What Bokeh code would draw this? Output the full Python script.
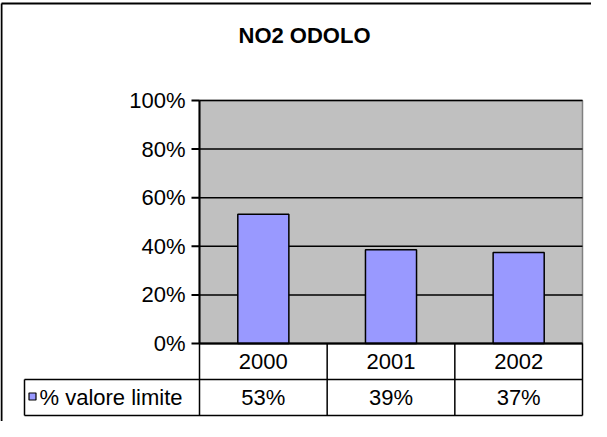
from bokeh.plotting import figure
from bokeh.models import Range1d, ColumnDataSource
from bokeh.core.properties import value
from bokeh.embed import file_html
from bokeh.resources import INLINE

# ---- data ----
chart_title = "NO2 ODOLO"
years = ["2000", "2001", "2002"]
pct_values = [0.532, 0.386, 0.374]
series_name = "% valore limite"
y_ticks = [0.0, 0.2, 0.4, 0.6, 0.8, 1.0]
y_tick_labels = ["0%", "20%", "40%", "60%", "80%", "100%"]

# ---- layout (figure pixel geometry) ----
W, H = 591, 421
PL, PR, PT, PB = 199, 582, 100, 343   # plot area in figure pixels
ROW_H = 36
LEG_L = 24
FONT = value("Liberation Sans")
FS = "22px"

n = len(years)
xpu = (PR - PL) / n
ypu = (PB - PT) / 1.0


def X(px):
    return (px - PL) / xpu


def Y(py):
    return (PB - py) / ypu


p = figure(width=W, height=H, x_range=Range1d(X(0), X(W)), y_range=Range1d(Y(H), Y(0)),
           output_backend="svg", toolbar_location=None, min_border=0,
           x_axis_location=None, y_axis_location=None, title_location=None)
p.grid.visible = False
p.outline_line_color = None
p.background_fill_color = "white"
p.border_fill_color = "white"

# outer chart border (left and top edges visible)
p.segment(x0=[X(1), X(1)], y0=[Y(3), Y(3)], x1=[X(1), X(W + 20)], y1=[Y(H + 20), Y(3)],
          line_color="black", line_width=2)

# title
p.text(x=[X(304)], y=[Y(35)], text=[chart_title], text_font=FONT, text_font_size="22px",
       text_font_style="bold", text_align="center", text_baseline="middle", text_color="black")

# plot area
p.quad(left=[0], right=[n], bottom=[0], top=[1], fill_color="#C0C0C0",
       line_color="#808080", line_width=1.5)

# gridlines
grid_vals = y_ticks[1:]
p.segment(x0=[0] * len(grid_vals), x1=[n] * len(grid_vals), y0=grid_vals, y1=grid_vals,
          line_color="black", line_width=1.5)

# bars
src = ColumnDataSource(dict(
    x=[i + 0.5 for i in range(n)],
    top=pct_values,
    year=years,
    label=[f"{round(v * 100)}%" for v in pct_values],
    yr_y=[Y(PB + ROW_H / 2)] * n,
    val_y=[Y(PB + ROW_H * 1.5)] * n,
))
p.vbar(x="x", top="top", bottom=0, width=0.4, source=src, fill_color="#9999FF",
       line_color="black", line_width=1.5)

# value axis
p.segment(x0=[0], y0=[0], x1=[0], y1=[1], line_color="black", line_width=2)
p.segment(x0=[X(PL - 8)] * len(y_ticks), x1=[0] * len(y_ticks), y0=y_ticks, y1=y_ticks,
          line_color="black", line_width=2)
p.text(x=[X(PL - 14)] * len(y_ticks), y=y_ticks, text=y_tick_labels, text_font=FONT,
       text_font_size=FS, text_align="right", text_baseline="middle", text_color="black")

# data table
r1 = Y(PB + ROW_H)
r2 = Y(PB + 2 * ROW_H)
p.segment(x0=[0, X(LEG_L), X(LEG_L)], x1=[n, n, n], y0=[0, r1, r2], y1=[0, r1, r2],
          line_color="black", line_width=1.5)
p.segment(x0=[0], y0=[0], x1=[n], y1=[0], line_color="black", line_width=2)
vx = list(range(n + 1))
p.segment(x0=vx, x1=vx, y0=[0] * len(vx), y1=[r2] * len(vx), line_color="black", line_width=1.5)
p.segment(x0=[X(LEG_L)], x1=[X(LEG_L)], y0=[r1], y1=[r2], line_color="black", line_width=1.5)

p.text(x="x", y="yr_y", text="year", source=src, text_font=FONT, text_font_size=FS,
       text_align="center", text_baseline="middle", text_color="black")
p.text(x="x", y="val_y", text="label", source=src, text_font=FONT, text_font_size=FS,
       text_align="center", text_baseline="middle", text_color="black")

# legend key in table
p.rect(x=[X(LEG_L + 8)], y=[Y(PB + ROW_H * 1.5 - 1)], width=7, height=7,
       width_units="screen", height_units="screen", fill_color="#9999FF",
       line_color="black", line_width=1.2)
p.text(x=[X(LEG_L + 15)], y=[Y(PB + ROW_H * 1.5)], text=[series_name], text_font=FONT,
       text_font_size=FS, text_align="left", text_baseline="middle", text_color="black")

open("out.html", "w").write(file_html(p, INLINE))
